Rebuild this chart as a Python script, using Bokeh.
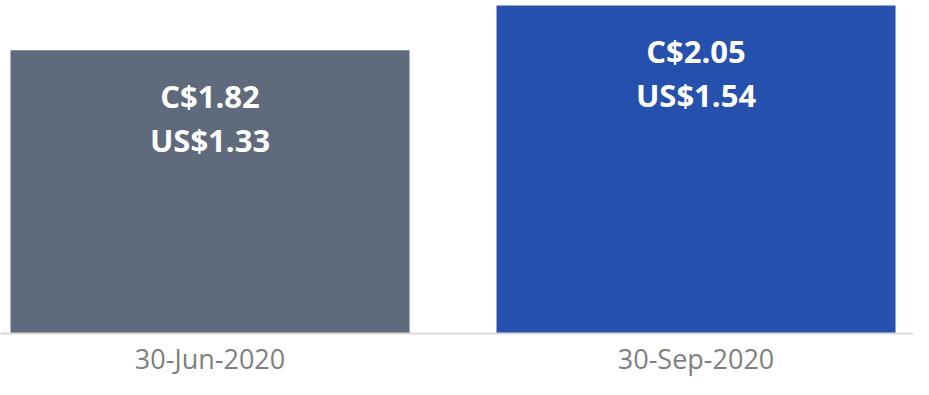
from bokeh.plotting import figure
from bokeh.models import Range1d, FixedTicker
from bokeh.core.properties import value
from bokeh.embed import file_html
from bokeh.resources import INLINE

dates = ["30-Jun-2020", "30-Sep-2020"]
cad = [1.82, 2.05]
usd = [1.33, 1.54]
colors = ["#5F6B7C", "#2650AE"]

idx = list(range(len(dates)))
top_labels = [f"C${v:.2f}" for v in cad]
bottom_labels = [f"US${v:.2f}" for v in usd]

p = figure(width=913, height=379, output_backend="svg", toolbar_location=None,
           x_range=Range1d(-0.4311, 1.4475), y_range=Range1d(0, 1.563),
           min_border_left=0, min_border_right=0, min_border_top=0, min_border_bottom=44)

p.vbar(x=idx, top=usd, width=0.821, color=colors, line_color=None)

p.text(x=idx, y=usd, text=top_labels, text_color="white", text_font=value("Open Sans"),
       text_font_style="bold", text_font_size="31px", text_align="center",
       text_baseline="middle", y_offset=46)
p.text(x=idx, y=usd, text=bottom_labels, text_color="white", text_font=value("Open Sans"),
       text_font_style="bold", text_font_size="31px", text_align="center",
       text_baseline="middle", y_offset=90)

p.yaxis.visible = False
p.xgrid.visible = False
p.ygrid.visible = False
p.outline_line_color = None

ax = p.xaxis[0]
ax.ticker = FixedTicker(ticks=idx)
ax.major_label_overrides = {i: d for i, d in zip(idx, dates)}
ax.axis_line_color = "#D9D9D9"
ax.axis_line_width = 2
ax.major_tick_line_color = None
ax.minor_tick_line_color = None
ax.major_tick_out = 0
ax.major_tick_in = 0
ax.major_label_text_font = "Open Sans"
ax.major_label_text_font_size = "27px"
ax.major_label_text_color = "#7F7F7F"
ax.major_label_standoff = 6

open("out.html", "w").write(file_html(p, INLINE))
